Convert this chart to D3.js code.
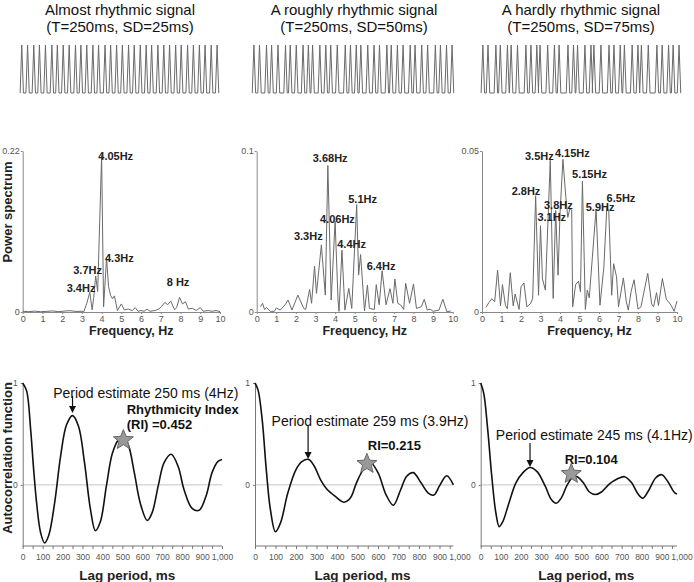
<!DOCTYPE html>
<html><head><meta charset="utf-8">
<script src="https://cdn.jsdelivr.net/npm/d3@7"></script>
<style>body{margin:0;background:#fff} svg{display:block;font-family:Arial,"Liberation Sans",sans-serif}</style>
</head><body><svg id="c" width="694" height="582"></svg>
<script>
// ---------------- DATA ----------------
const titleLine1 = ["Almost rhythmic signal", "A roughly rhythmic signal", "A hardly rhythmic signal"];
const titleLine2 = ["(T=250ms, SD=25ms)", "(T=250ms, SD=50ms)", "(T=250ms, SD=75ms)"];

// inter-spike intervals (ms) read from the spike trains
const sig1Intervals = [245,262,238,255,270,232,248,251,266,229,247,258,241,273,236,252,244,261,239,256,248,231,264,250,243,257,235,268,246,253,240,259,249];
const sig2Intervals = [230,290,210,265,310,195,250,280,220,175,300,245,205,270,330,215,240,190,285,260,225,305,180,255,235,295,200,275,245,320,210,250,230];
const sig3Intervals = [210,320,180,290,150,260,340,205,240,130,310,275,190,360,225,165,300,245,120,285,330,200,255,170,315,235,140,280,350,215,260,185,240];

// power spectra
const spec1Freq  = [0,0.3,0.6,0.9,1.2,1.5,1.8,2.1,2.4,2.7,3.0,3.1,3.25,3.4,3.52,3.6,3.7,3.8,4.0,4.1,4.25,4.35,4.45,4.55,4.65,4.8,5.0,5.15,5.35,5.55,5.7,5.85,6.0,6.15,6.3,6.45,6.7,6.9,7.05,7.2,7.35,7.5,7.7,7.8,7.95,8.1,8.25,8.4,8.6,8.8,9.0,9.15,9.4,9.6,9.8,10];
const spec1Power = [0.001,0.0005,0.0012,0.0004,0.0008,0.0015,0.0005,0.0012,0.0018,0.0008,0.001,0.0005,0.012,0.027,0.003,0.02,0.049,0.028,0.214,0.007,0.074,0.035,0.023,0.018,0.022,0.002,0.011,0.003,0.004,0.002,0.006,0.001,0.002,0.001,0.004,0.001,0.002,0.004,0.008,0.013,0.010,0.015,0.003,0.006,0.020,0.011,0.014,0.004,0.005,0.002,0.006,0.001,0.002,0.001,0.002,0.0005];

const spec2Freq  = [0.2,0.3,0.4,0.5,0.7,0.9,1.0,1.2,1.45,1.6,1.8,2.1,2.4,2.5,2.7,2.8,2.95,3.05,3.3,3.5,3.63,3.8,4.0,4.15,4.2,4.35,4.5,4.7,4.85,5.1,5.2,5.3,5.5,5.65,5.75,6.0,6.1,6.25,6.4,6.6,6.8,6.95,7.05,7.2,7.35,7.5,7.6,7.8,8.0,8.15,8.4,8.55,8.7,8.85,9.0,9.3,9.5,9.7,9.9];
const spec2Power = [0.0033,0.0054,0.0015,0.0028,0.0004,0.0004,0.0025,0.0012,0.0045,0.0074,0.0012,0.0105,0.0022,0.0016,0.014,0.0054,0.0285,0.0116,0.0417,0.0105,0.091,0.0074,0.0564,0.0074,0.0004,0.0384,0.0012,0.0147,0.0022,0.0667,0.0229,0.0357,0.0006,0.0167,0.0022,0.0016,0.017,0.0045,0.0256,0.0045,0.0145,0.0054,0.0205,0.0054,0.0043,0.0016,0.0178,0.0054,0.0174,0.0022,0.0033,0.0079,0.0012,0.0018,0.0004,0.0012,0.0079,0.0002,0.0006];

const spec3Freq  = [0.2,0.35,0.5,0.65,0.8,0.95,1.05,1.2,1.3,1.45,1.6,1.7,1.9,2.0,2.15,2.3,2.5,2.6,2.75,2.9,3.0,3.1,3.25,3.5,3.65,3.78,3.9,4.0,4.15,4.3,4.4,4.5,4.6,4.65,4.8,4.95,5.05,5.15,5.3,5.4,5.5,5.85,6.05,6.25,6.4,6.5,6.65,6.75,6.9,7.0,7.25,7.4,7.5,7.65,7.8,8.0,8.15,8.5,8.7,8.8,8.95,9.05,9.25,9.45,9.7,9.85,10];
const spec3Power = [0.0014,0.0029,0.0041,0.0032,0.013,0.0019,0.0085,0.0021,0.0010,0.0122,0.0019,0.0056,0.0008,0.0078,0.009,0.0016,0.0027,0.0043,0.0361,0.0052,0.0268,0.0103,0.0068,0.0471,0.0042,0.0315,0.0114,0.0305,0.0474,0.0356,0.0294,0.032,0.0317,0.0016,0.0085,0.0096,0.0063,0.0407,0.0008,0.0068,0.0044,0.032,0.0021,0.014,0.0325,0.0315,0.0052,0.015,0.0109,0.0016,0.0106,0.0032,0.0006,0.0065,0.0100,0.0009,0.0016,0.012,0.0025,0.0016,0.0060,0.0020,0.0104,0.0040,0.0021,0.0002,0.0034];

const specMax = [0.22, 0.1, 0.05];
const specMaxLabel = ["0.22", "0.1", "0.05"];
const freqTicks = [0,1,2,3,4,5,6,7,8,9,10];

// peak labels: [text, freq, power] (left / baseline anchor in data units)
const spec1Labels = [["4.05Hz",3.83,0.2077],["4.3Hz",4.17,0.0688],["3.7Hz",2.56,0.0523],["3.4Hz",2.23,0.0275],["8 Hz",7.30,0.0358]];
const spec2Labels = [["3.68Hz",2.86,0.0933],["5.1Hz",4.67,0.0676],["4.06Hz",3.23,0.0555],["3.3Hz",1.90,0.0446],["4.4Hz",4.11,0.0400],["6.4Hz",5.61,0.0263]];
const spec3Labels = [["3.5Hz",2.205,0.0472],["4.15Hz",3.74,0.0481],["5.15Hz",4.62,0.0417],["2.8Hz",1.52,0.0364],["6.5Hz",6.39,0.0341],["3.8Hz",3.18,0.0319],["5.9Hz",5.32,0.0313],["3.1Hz",2.84,0.0284]];

// autocorrelation functions
const acf1Lag = [0,20,40,55,70,90,110,130,160,190,220,250,280,310,340,365,390,420,450,480,505,530,560,590,625,650,680,710,745,780,810,850,885,920,950,980,1000];
const acf1Val = [1.0,0.92,0.54,0.15,-0.18,-0.47,-0.57,-0.50,-0.18,0.28,0.59,0.68,0.575,0.22,-0.24,-0.45,-0.36,-0.01,0.31,0.44,0.46,0.39,0.12,-0.18,-0.35,-0.27,-0.01,0.22,0.30,0.18,-0.05,-0.23,-0.25,-0.11,0.12,0.23,0.25];
const acf2Lag = [0,15,35,55,75,100,125,160,200,230,262,290,320,350,390,435,465,495,525,562,600,640,675,710,740,772,810,845,872,900,935,968];
const acf2Val = [1.0,0.93,0.64,0.15,-0.24,-0.46,-0.37,-0.08,0.15,0.23,0.25,0.18,0.05,-0.04,-0.11,-0.17,-0.13,0.02,0.14,0.22,0.12,-0.10,-0.20,-0.05,0.085,0.12,0.02,-0.08,-0.10,-0.01,0.09,0.0];
const acf3Lag = [0,15,35,55,75,92,110,140,175,210,245,280,320,350,375,400,430,462,480,510,540,570,600,640,680,715,750,780,805,830,870,900,930,960,975];
const acf3Val = [1.0,0.90,0.54,0.085,-0.27,-0.41,-0.36,-0.18,0.02,0.12,0.17,0.13,-0.01,-0.14,-0.18,-0.13,0.0,0.085,0.08,0.02,-0.07,-0.095,-0.07,0.01,0.06,0.08,0.02,-0.085,-0.13,-0.07,0.07,0.10,0.03,-0.07,-0.09];
const lagTicks = [0,100,200,300,400,500,600,700,800,900,1000];

// annotations
const periodText = ["Period estimate 250 ms (4Hz)", "Period estimate 259 ms (3.9Hz)", "Period estimate 245 ms (4.1Hz)"];
const periodLag = [250, 259, 245];
const riText = [["Rhythmicity Index", "(RI) =0.452"], ["RI=0.215"], ["RI=0.104"]];
// [textLag, textVal, arrowTopVal, arrowTipVal, riLag, riVal, starLag, starVal]
const annoPos = [
  [153, 0.853, 0.873, 0.706, 522, 0.691, 505, 0.44],
  [81, 0.578, 0.588, 0.255, 550, 0.338, 546, 0.206],
  [75, 0.436, 0.41, 0.176, 417, 0.206, 450, 0.108]
];

// ---------------- DRAW ----------------
const svg = d3.select("#c");
const gray = "#555";
const FF = "Arial, 'Liberation Sans', sans-serif";

// titles
const titleX = [120, 354, 581];
titleX.forEach((cx, i) => {
  svg.append("text").attr("x", cx).attr("y", 15).attr("text-anchor", "middle")
    .attr("font-size", 15).attr("fill", "#111").text(titleLine1[i]);
  svg.append("text").attr("x", cx).attr("y", 32).attr("text-anchor", "middle")
    .attr("font-size", 15).attr("fill", "#111").text(titleLine2[i]);
});

// spike trains
const sigBox = [[20, 219], [252, 454], [481, 681]];
const sigY = d3.scaleLinear().domain([0, 1]).range([93, 45]);
const sigStart = [75, 80, 75];
const hw = 70;
[sig1Intervals, sig2Intervals, sig3Intervals].forEach((iv, i) => {
  const times = [sigStart[i]];
  iv.forEach(d => times.push(times[times.length - 1] + d));
  const end = times[times.length - 1] + 80;
  const x = d3.scaleLinear().domain([0, end]).range(sigBox[i]);
  const pts = [[0, 0]];
  times.forEach(s => { pts.push([s - hw, 0], [s, 1], [s + hw, 0]); });
  pts.push([end, 0]);
  svg.append("path").attr("d", d3.line().x(d => x(d[0])).y(d => sigY(d[1]))(pts))
    .attr("fill", "none").attr("stroke", "#6a6a6a").attr("stroke-width", 1);
});

// spectra
const specRange = [[22.7, 220], [256.7, 452.7], [482, 677]];
const specData = [[spec1Freq, spec1Power], [spec2Freq, spec2Power], [spec3Freq, spec3Power]];
const specLabels = [spec1Labels, spec2Labels, spec3Labels];
specRange.forEach((r, i) => {
  const x = d3.scaleLinear().domain([0, 10]).range(r);
  const y = d3.scaleLinear().domain([0, specMax[i]]).range([312, 151]);
  const g = svg.append("g");
  const ax = g.append("g").attr("transform", `translate(0,312)`)
    .call(d3.axisBottom(x).tickValues(freqTicks).tickSize(2).tickPadding(1.5).tickSizeOuter(0));
  const ay = g.append("g").attr("transform", `translate(${r[0]},0)`)
    .call(d3.axisLeft(y).tickValues([0, specMax[i]]).tickFormat((d, k) => k ? specMaxLabel[i] : "0").tickSize(2).tickPadding(1).tickSizeOuter(0));
  [ax, ay].forEach(a => {
    a.selectAll("path,line").attr("stroke", "#888");
    a.selectAll("text").attr("font-size", 9).attr("fill", gray).attr("font-family", FF);
  });
  const pts = specData[i][0].map((f, k) => [f, specData[i][1][k]]);
  g.append("path").attr("d", d3.line().x(d => x(d[0])).y(d => y(d[1]))(pts))
    .attr("fill", "none").attr("stroke", "#6a6a6a").attr("stroke-width", 1);
  specLabels[i].forEach(l => {
    g.append("text").attr("x", x(l[1])).attr("y", y(l[2])).attr("font-size", 11)
      .attr("font-weight", "bold").attr("fill", "#222").text(l[0]);
  });
  g.append("text").attr("x", (r[0] + r[1]) / 2 + 10).attr("y", 334.5).attr("text-anchor", "middle")
    .attr("font-size", 12.5).attr("font-weight", "bold").attr("fill", "#222").text("Frequency, Hz");
});
svg.append("text").attr("transform", "translate(12,212) rotate(-90)").attr("text-anchor", "middle")
  .attr("font-size", 13).attr("font-weight", "bold").attr("fill", "#222").text("Power spectrum");

// autocorrelation
const acfRange = [[22.7, 222], [255, 460], [480.7, 682]];
const acfData = [[acf1Lag, acf1Val], [acf2Lag, acf2Val], [acf3Lag, acf3Val]];
const yA = d3.scaleLinear().domain([-0.6, 1]).range([546, 383]);
function starPath(cx, cy, R, r) {
  const p = [];
  for (let k = 0; k < 10; k++) {
    const a = -Math.PI / 2 + k * Math.PI / 5;
    const rr = k % 2 ? r : R;
    p.push([cx + rr * Math.cos(a), cy + rr * Math.sin(a)]);
  }
  return "M" + p.map(d => d.join(",")).join("L") + "Z";
}
acfRange.forEach((r, i) => {
  const x = d3.scaleLinear().domain([0, 1000]).range(r);
  const lags = acfData[i][0], vals = acfData[i][1];
  const lastLag = lags[lags.length - 1];
  const g = svg.append("g");
  // zero line
  g.append("line").attr("x1", x(0)).attr("x2", x(lastLag)).attr("y1", yA(0)).attr("y2", yA(0))
    .attr("stroke", "#c4c4c4").attr("stroke-width", 1);
  const ax = g.append("g").attr("transform", `translate(0,546)`)
    .call(d3.axisBottom(x).tickValues(d3.range(0, lastLag + 1, 50)).tickFormat(d => d % 100 === 0 ? d3.format(",")(d) : "")
      .tickSize(3).tickPadding(5).tickSizeOuter(0));
  ax.select(".domain").attr("d", `M${x(0)},0H${x(lastLag)}`);
  lagTicks.filter(t => t > lastLag).forEach(t => {
    ax.append("text").attr("x", x(t)).attr("y", 8).attr("dy", "0.71em").attr("text-anchor", "middle").text(d3.format(",")(t));
  });
  const ay = g.append("g").attr("transform", `translate(${r[0]},0)`)
    .call(d3.axisLeft(yA).tickValues([0, 1]).tickFormat(d3.format("d")).tickSize(2).tickPadding(3).tickSizeOuter(0));
  [ax, ay].forEach(a => {
    a.selectAll("path,line").attr("stroke", "#777");
    a.selectAll("text").attr("font-size", 8.5).attr("fill", gray).attr("font-family", FF);
  });
  const pts = lags.map((l, k) => [l, vals[k]]);
  g.append("path").attr("d", d3.line().curve(d3.curveCatmullRom.alpha(0.5)).x(d => x(d[0])).y(d => yA(d[1]))(pts))
    .attr("fill", "none").attr("stroke", "#111").attr("stroke-width", 1.6);
  const a = annoPos[i];
  g.append("text").attr("x", x(a[0])).attr("y", yA(a[1])).attr("font-size", 14).attr("fill", "#111").text(periodText[i]);
  const ax0 = x(periodLag[i]), yTop = yA(a[2]), yTip = yA(a[3]);
  g.append("line").attr("x1", ax0).attr("x2", ax0).attr("y1", yTop).attr("y2", yTip - 4)
    .attr("stroke", "#111").attr("stroke-width", 1.2);
  g.append("path").attr("d", `M${ax0 - 3.5},${yTip - 7}L${ax0 + 3.5},${yTip - 7}L${ax0},${yTip}Z`).attr("fill", "#111");
  riText[i].forEach((t, k) => {
    g.append("text").attr("x", x(a[4])).attr("y", yA(a[5]) + k * 14.5).attr("font-size", 13)
      .attr("font-weight", "bold").attr("fill", "#111").text(t);
  });
  g.append("path").attr("d", starPath(x(a[6]), yA(a[7]), 10.5, 4.6))
    .attr("fill", "#999").attr("stroke", "#666").attr("stroke-width", 1);
  g.append("text").attr("x", (r[0] + r[1]) / 2 + 5).attr("y", 580).attr("text-anchor", "middle")
    .attr("font-size", 13.5).attr("font-weight", "bold").attr("fill", "#222").text("Lag period, ms");
});
svg.append("text").attr("transform", "translate(12,458) rotate(-90)").attr("text-anchor", "middle")
  .attr("font-size", 13).attr("font-weight", "bold").attr("fill", "#222").text("Autocorrelation function");
</script>
</body></html>
